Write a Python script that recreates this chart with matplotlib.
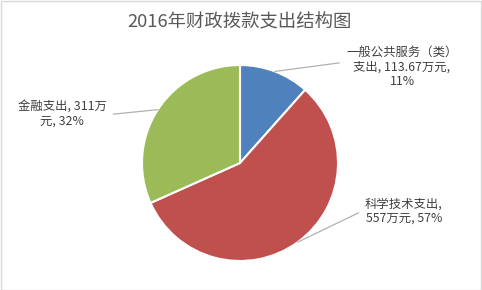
import numpy as np
import matplotlib
matplotlib.use('Agg')
import matplotlib.pyplot as plt
import matplotlib.patches as patches

plt.rcParams['font.family'] = ['Noto Sans CJK SC', 'DejaVu Sans']

# data
categories = ['一般公共服务（类）支出', '科学技术支出', '金融支出']
values = [113.67, 557, 311]
units = '万元'
colors = ['#4F81BD', '#C0504D', '#9BBB59']
label_texts = ['一般公共服务（类）\n支出, 113.67万元,\n11%',
               '科学技术支出,\n557万元, 57%',
               '金融支出, 311万\n元, 32%']

W, H = 482, 290
fig = plt.figure(figsize=(W / 100, H / 100), dpi=100)
fig.patch.set_facecolor('white')

# chart border
fig.patches.append(patches.Rectangle((0.5 / W, 0.5 / H), 1 - 1.5 / W, 1 - 1.5 / H,
                                     transform=fig.transFigure, fill=False,
                                     edgecolor='#D9D9D9', linewidth=1))

fig.text(240 / W, 1 - 22 / H, '2016年财政拨款支出结构图', ha='center', va='center',
         fontsize=13.2, color='#595959')

# pie axes: centre (240,163) px, radius 98 px
cx, cy, r = 240, 163, 98
ax = fig.add_axes([(cx - r) / W, (H - cy - r) / H, 2 * r / W, 2 * r / H])
wedges, _ = ax.pie(values, colors=colors, startangle=90, counterclock=False,
                   wedgeprops=dict(edgecolor='white', linewidth=1.5))
ax.set_xlim(-1, 1)
ax.set_ylim(-1, 1)
ax.set_aspect('equal')
ax.axis('off')

# label positions (figure pixels, from top) and anchor of leader on text box
text_pos = [(402, 67), (404, 211), (62, 114)]
rel = [(0.0, 0.62), (0.0, 0.55), (1.0, 0.47)]

for w, txt, (tx, ty), rp in zip(wedges, label_texts, text_pos, rel):
    ang = np.deg2rad((w.theta1 + w.theta2) / 2)
    ax.annotate(txt, xy=(np.cos(ang), np.sin(ang)), xycoords='data',
                xytext=(tx, H - ty), textcoords='figure pixels',
                ha='center', va='center', fontsize=8.9, color='#404040',
                linespacing=1.15,
                arrowprops=dict(arrowstyle='-', color='#B0B0B0', lw=0.9,
                                shrinkA=3, shrinkB=0, relpos=rp))

fig.savefig('out.png', dpi=100)
